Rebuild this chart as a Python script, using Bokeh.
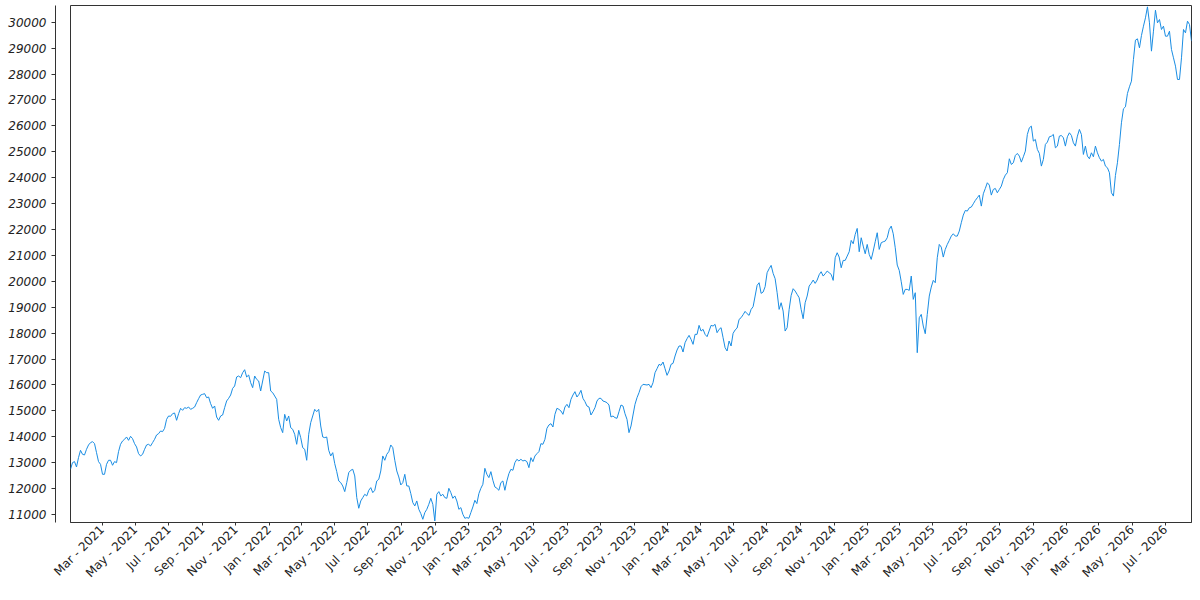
import math
import pandas as pd
from bokeh.plotting import figure
from bokeh.models import (Range1d, LinearAxis, SingleIntervalTicker, FixedTicker,
                          MonthsTicker, DatetimeTickFormatter, ColumnDataSource)
from bokeh.embed import file_html
from bokeh.resources import INLINE

# ---- data ----
first_date = "2021-01-02"
last_date = "2026-08-18"

values_2021 = [12743, 13000, 13040, 12833, 13193, 13476, 13322, 13296, 13515, 13682,
               13772, 13811, 13734, 13386, 13040, 12936, 12550, 12550, 12936, 13091,
               13091, 12898, 13040, 13001, 13425, 13708, 13836, 13901, 13991, 13862,
               14017, 13926, 13734, 13605, 13348, 13258, 13322, 13515, 13682, 13708,
               13644, 13772, 13901, 14068, 14119, 14222, 14197, 14325, 14672, 14801,
               14788, 14891, 14917, 14634, 14891, 15097, 15020, 15122, 15097, 15148,
               15058, 15097, 15148, 15315, 15470, 15611, 15637, 15663, 15508, 15534,
               15277, 15097, 15187, 14762, 14634, 14801, 14839, 15122, 15380, 15483,
               15611, 15868, 15958, 16306, 16344, 16280, 16473, 16588, 16306, 16383,
               16087, 15894, 16344, 16216]

values_2022 = [16151, 15765, 16151, 16537, 16473, 16473, 15765, 15701, 15573, 15444,
               14672, 14351, 14158, 14865, 14608, 14801, 14351, 14287, 14094, 13708,
               14248, 13965, 13579, 13515, 13091, 14094, 14544, 14801, 15058, 14968,
               15058, 14415, 13991, 13965, 13991, 13476, 13258, 13386, 12962, 12653,
               12293, 12229, 12100, 11882, 12229, 12615, 12705, 12743, 12486, 11650,
               11239, 11522, 11650, 11779, 11715, 11933, 12036, 11843, 11933, 12293,
               12358, 12679, 13258, 13091, 13322, 13425, 13682, 13579, 13091, 12679,
               12448, 12139, 12229, 12550, 12100, 12100, 11805, 11457, 11329, 11522,
               11200, 11033, 10814, 11072, 11200, 11393, 11624, 11393, 10750, 11779,
               11882, 11715, 11779, 11650]

values_2023 = [11624, 12010, 11843, 11624, 11715, 11521, 11200, 11264, 11007, 10853,
               10878, 10853, 11071, 11290, 11547, 11419, 11804, 12010, 12164, 12782,
               12550, 12422, 12653, 12319, 12062, 12010, 11933, 12229, 12293, 11933,
               12293, 12576, 12743, 12705, 13000, 13129, 13065, 13129, 13065, 13090,
               13039, 12807, 13193, 13039, 13257, 13347, 13425, 13733, 13708, 13901,
               14325, 14454, 14505, 14376, 14865, 15097, 15058, 14994, 14865, 15148,
               15251, 15122, 15444, 15611, 15740, 15534, 15637, 15791, 15482, 15354,
               15186, 15148, 14839, 14968, 15122, 15379, 15482, 15482, 15379, 15354,
               15315, 15225, 14762, 14801, 14737, 14711, 14968, 15225, 15186, 14891,
               14672, 14158, 14415, 14839]

values_2024 = [15251, 15508, 15701, 15933, 16023, 16010, 15997, 16023, 15894, 16087,
               16473, 16627, 16794, 16756, 16884, 16627, 16370, 16537, 16794, 16833,
               17116, 17347, 17502, 17502, 17270, 17630, 17785, 17913, 17759, 17566,
               17952, 17952, 18299, 18080, 18145, 17952, 17862, 18080, 18299, 18273,
               18338, 18016, 18145, 18209, 17823, 17437, 17309, 17695, 17502, 17990,
               18119, 18196, 18530, 18595, 18710, 18839, 18749, 18685, 18916, 19019,
               19431, 19842, 19945, 19534, 19585, 19791, 20331, 20485, 20614, 20305,
               20099, 19559, 18916, 19173, 18852, 18080, 18209, 18916, 19456, 19714,
               19623, 19495, 19366, 18916, 18556, 19173, 19431, 19816, 19919, 20048,
               19919, 20048, 20254]

values_2025 = [20369, 20202, 20292, 20395, 20330, 20266, 20035, 20909, 21102, 20935,
               20523, 20806, 20806, 20973, 21140, 21578, 21449, 21809, 22041, 21140,
               21681, 21359, 21063, 21423, 21038, 20845, 21166, 21526, 21874, 21231,
               21488, 21526, 21552, 21681, 22002, 22131, 21835, 21295, 20626, 20420,
               19983, 19494, 19687, 19687, 19649, 20202, 19302, 19559, 17244, 18594,
               18723, 18273, 17977, 18723, 19430, 19777, 20035, 19945, 20909, 21423,
               21320, 20935, 21231, 21423, 21578, 21745, 21835, 21745, 21745, 21938,
               22260, 22555, 22735, 22709, 22838, 22864, 22992, 23121, 23224, 23327,
               22902, 23378, 23584, 23803, 23713, 23327, 23545, 23584, 23417, 23545,
               23674, 23931, 24098, 24190]

values_2026 = [24729, 24510, 24575, 24857, 24935, 24832, 24600, 24806, 25025, 25668,
               25925, 25989, 25411, 25475, 25089, 24935, 24446, 24703, 25282, 25372,
               25578, 25603, 25668, 25153, 25218, 25603, 25629, 25539, 25218, 25578,
               25732, 25629, 25346, 25218, 25603, 25861, 25668, 24896, 25218, 24832,
               24729, 24960, 24806, 25218, 24960, 24768, 24639, 24703, 24446, 24382,
               24189, 23417, 23289, 24086, 24575, 25282, 26118, 26658, 26735, 27250,
               27507, 27725, 28561, 29307, 29359, 29011, 29487, 29847, 30169, 30593,
               29976, 28883, 29654, 30464, 29976, 30104, 29719, 29847, 29461, 29461,
               29654, 28947, 28626, 28304, 27790, 27790, 28626, 29719, 29590, 30040,
               29912, 29269]

y_start, y_end = 10690, 30645
y_tick_step = 1000
tick_months = [0, 2, 4, 6, 8, 10]
date_format = "%b - %Y"

values = values_2021 + values_2022 + values_2023 + values_2024 + values_2025 + values_2026
dates = pd.date_range(first_date, last_date, periods=len(values))
source = ColumnDataSource(data=dict(date=dates, value=values))

LINE_COLOR = "#1a8de3"
AXIS_COLOR = "#333333"
TEXT_COLOR = "#222222"
FONT = "DejaVu Sans"

p = figure(frame_width=1121, frame_height=517,
           x_axis_type="datetime", y_axis_location=None,
           x_range=Range1d(dates[0], dates[-1]),
           y_range=Range1d(y_start, y_end),
           output_backend="svg", toolbar_location=None,
           min_border_top=5, min_border_right=2, min_border_left=0,
           background_fill_color="white", border_fill_color="white")
p.margin = (0, 0, 0, 5)

p.line("date", "value", source=source, line_color=LINE_COLOR, line_width=1)

p.grid.visible = False
p.outline_line_color = AXIS_COLOR
p.outline_line_width = 1
p.outline_line_alpha = 1

# spacer axis (keeps the visible y axis detached from the frame)
spacer = LinearAxis(ticker=FixedTicker(ticks=[20000]), axis_line_color=None,
                    major_tick_line_color=None, minor_tick_line_color=None,
                    major_tick_out=15, major_tick_in=0,
                    major_label_overrides={20000: ""},
                    major_label_text_color=None,
                    major_label_standoff=0)
p.add_layout(spacer, "left")

yaxis = LinearAxis(ticker=SingleIntervalTicker(interval=y_tick_step, num_minor_ticks=0))
yaxis.axis_line_color = AXIS_COLOR
yaxis.major_tick_line_color = AXIS_COLOR
yaxis.major_tick_out = 4
yaxis.major_tick_in = 0
yaxis.minor_tick_line_color = None
yaxis.major_label_standoff = 5
yaxis.major_label_text_font = FONT
yaxis.major_label_text_font_style = "italic"
yaxis.major_label_text_font_size = "12px"
yaxis.major_label_text_color = TEXT_COLOR
p.add_layout(yaxis, "left")

xaxis = p.xaxis[0]
xaxis.ticker = MonthsTicker(months=tick_months)
xaxis.formatter = DatetimeTickFormatter(days=date_format, months=date_format,
                                        years=date_format)
xaxis.major_label_orientation = math.pi / 4
xaxis.axis_line_color = AXIS_COLOR
xaxis.major_tick_line_color = AXIS_COLOR
xaxis.major_tick_out = 3
xaxis.major_tick_in = 0
xaxis.minor_tick_line_color = None
xaxis.major_label_standoff = 2
xaxis.major_label_text_font = FONT
xaxis.major_label_text_font_size = "12px"
xaxis.major_label_text_color = TEXT_COLOR

open("out.html", "w").write(file_html(p, INLINE))
